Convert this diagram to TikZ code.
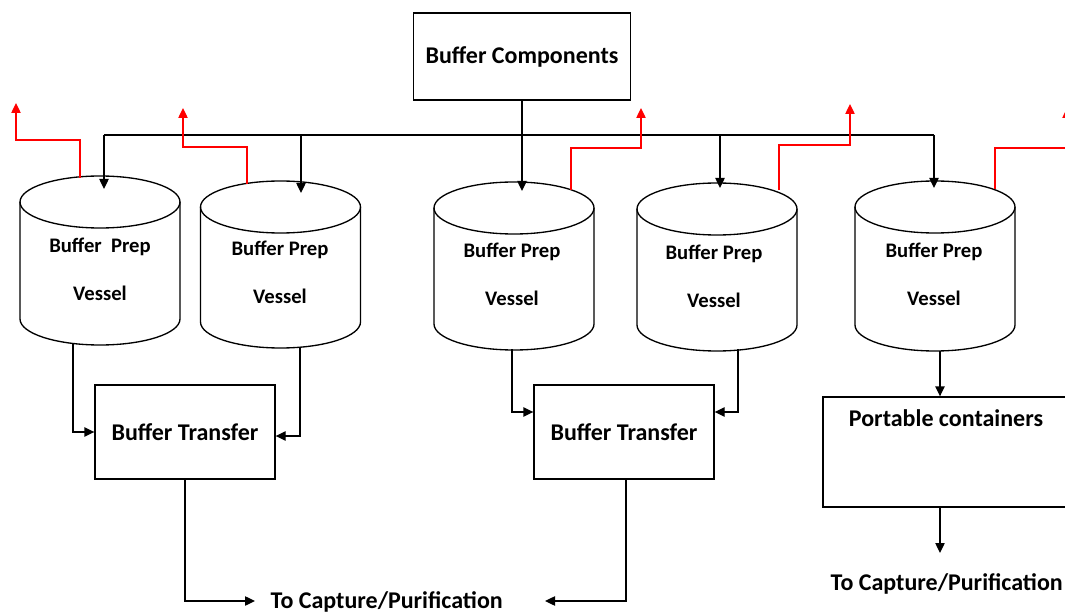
\documentclass[tikz,border=0pt]{standalone}
\usepackage{fontspec}
\setmainfont{Carlito}
\usetikzlibrary{arrows.meta}
\newcommand\vessel[5]{%
  \draw[ln] (#2,-#3) ellipse[x radius=80,y radius=#5];
  \draw[ln] ({#2-80},-#3) -- ({#2-80},-#4) arc[start angle=180,end angle=360,x radius=80,y radius=#5] -- ({#2+80},-#3);
  \coordinate (#1) at (#2,{-(#3+#4)/2});
}
\begin{document}
\begin{tikzpicture}[x=0.75pt,y=0.75pt,
  ln/.style={line width=1pt,black},
  arr/.style={ln,-{Triangle[length=7.5pt,width=7pt]}},
  redarr/.style={line width=1pt,red,-{Triangle[length=7.5pt,width=7pt]}},
  box/.style={draw,line width=1pt,inner sep=0pt},
  lbl/.style={font=\fontsize{18}{21}\selectfont\bfseries},
  vlbl/.style={font=\fontsize{15.5}{36}\selectfont\bfseries,align=center}]
\useasboundingbox (0,0) rectangle (1065,-613);
\clip (0,0) rectangle (1065,-613);

% top box
\node[box,lbl,minimum width=162.75pt,minimum height=65.25pt] (bc) at (522,-56.5) {Buffer Components};

% vessels: name, cx, ytop, ybot, ry
\vessel{c1}{100}{202}{319}{26}
\vessel{c2}{280.5}{207}{322}{26}
\vessel{c3}{514}{208}{324}{26}
\vessel{c4}{717}{209}{325}{26}
\vessel{c5}{935}{207}{325}{26}

\node[vlbl] (v1) at (100,-269) {Buffer\ \ Prep\\Vessel};
\node[vlbl] (v2) at (280,-272) {Buffer Prep\\Vessel};
\node[vlbl] (v3) at (512,-274) {Buffer Prep\\Vessel};
\node[vlbl] (v4) at (714,-276) {Buffer Prep\\Vessel};
\node[vlbl] (v5) at (934,-274) {Buffer Prep\\Vessel};

% lower boxes
\node[box,lbl,minimum width=135pt,minimum height=70.5pt] (bt1) at (185,-432) {Buffer Transfer};
\node[box,lbl,minimum width=135pt,minimum height=70.5pt] (bt2) at (624,-432) {Buffer Transfer};
\node[box,minimum width=189pt,minimum height=82.5pt] (pc) at (949,-452) {};
\node[lbl] (pct) at (946,-418) {Portable containers};

\node[lbl,anchor=base west] (tc1) at (266,-608) {To Capture/Purification};
\node[lbl,anchor=base west] (tc2) at (826,-590) {To Capture/Purification};

% bus coordinates
\coordinate (b1) at (104,-135);
\coordinate (b2) at (301,-135);
\coordinate (b4) at (720,-135);
\coordinate (b5) at (934,-135);
\coordinate (i1) at (104,-189);
\coordinate (i2) at (301,-193);
\coordinate (i3) at (522,-191);
\coordinate (i4) at (720,-188);
\coordinate (i5) at (934,-188);

\draw[ln] (b1) -- (b5);
\draw[arr] (b1) -- (i1);
\draw[arr] (b2) -- (i2);
\draw[arr] (bc.south) -- (i3);
\draw[arr] (b4) -- (i4);
\draw[arr] (b5) -- (i5);

% red exits
\coordinate (r1s) at (80,-178);  \coordinate (r1e) at (16,-103);
\coordinate (r2s) at (247,-184); \coordinate (r2e) at (183,-108);
\coordinate (r3s) at (571,-190); \coordinate (r3e) at (641,-108);
\coordinate (r4s) at (779,-190); \coordinate (r4e) at (850,-104);
\coordinate (r5s) at (995,-189); \coordinate (r5e) at (1067,-108);
\draw[redarr] (r1s) -- (80,-140) -- (16,-140) -- (r1e);
\draw[redarr] (r2s) -- (247,-147) -- (183,-147) -- (r2e);
\draw[redarr] (r3s) -- (571,-148) -- (641,-148) -- (r3e);
\draw[redarr] (r4s) -- (779,-145) -- (850,-145) -- (r4e);
\draw[redarr] (r5s) -- (995,-148) -- (1067,-148) -- (r5e);

% vessel outlets
\coordinate (o1) at (73,-343);
\coordinate (o2) at (300,-347);
\coordinate (o3) at (512,-349);
\coordinate (o4) at (738,-349);
\coordinate (o5) at (940,-351);
\draw[arr] (o1) |- (bt1.west);
\draw[arr] (o2) |- ([yshift=-3pt]bt1.east);
\draw[arr] (o3) |- ([yshift=15pt]bt2.west);
\draw[arr] (o4) |- ([yshift=15pt]bt2.east);
\draw[arr] (o5) -- (o5 |- pc.north);

% to capture
\coordinate (t1) at (255,-601);
\coordinate (t2) at (545,-601);
\coordinate (t3) at (940,-553);
\draw[arr] (bt1.south) |- (t1);
\draw[arr] ([xshift=1.5pt]bt2.south) |- (t2);
\draw[arr] (o5 |- pc.south) -- (t3);
\end{tikzpicture}
\end{document}
